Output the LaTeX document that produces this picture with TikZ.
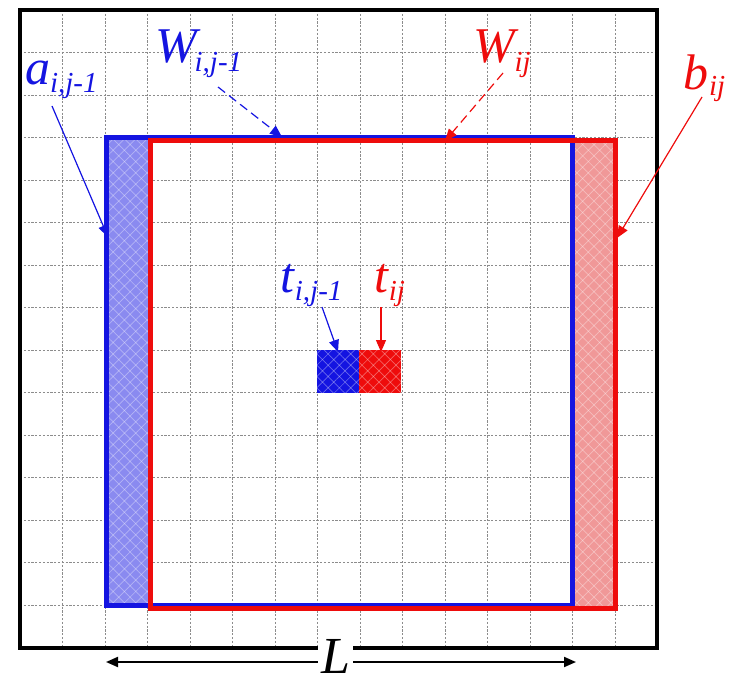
\documentclass[tikz,border=0pt]{standalone}
\usepackage{fontspec}
\setmainfont{Liberation Serif}
\usetikzlibrary{arrows.meta,patterns.meta}
\definecolor{myblue}{RGB}{20,20,225}
\definecolor{myred}{RGB}{238,12,12}
\definecolor{stripblue}{RGB}{138,138,240}
\definecolor{stripred}{RGB}{240,152,152}
\definecolor{gridgray}{RGB}{140,140,140}
\newcommand\mylbl[4]{{\fontsize{50}{50}\selectfont\itshape #1\kern#3\raisebox{-#4}{\fontsize{29}{29}\selectfont #2}}}
\tikzset{
  gridline/.style={gridgray, line width=0.9pt, dash pattern=on 2.2pt off 1.6pt},
  frameline/.style={black, line width=4.5pt},
  winline/.style={line width=5pt},
  hatch/.style={pattern={Lines[angle=45,distance=8pt,line width=0.7pt]}, pattern color=white, opacity=0.35},
  hatchb/.style={pattern={Lines[angle=-45,distance=8pt,line width=0.7pt]}, pattern color=white, opacity=0.35},
  lbl/.style={anchor=base west, inner sep=0pt, outer sep=0pt},
  solidarrow/.style={-{Triangle[length=12pt,width=10pt]}, line width=1.2pt},
  dasharrow/.style={solidarrow, dash pattern=on 9pt off 5pt},
}
\begin{document}
\begin{tikzpicture}[x=1pt,y=-1pt]
\useasboundingbox (0,0) rectangle (731,682);
% grid
\foreach \k in {1,...,14} {
  \draw[gridline] ({20+42.5*\k},10) -- ({20+42.5*\k},648);
  \draw[gridline] (20,{10+42.5*\k}) -- (657,{10+42.5*\k});
}
% strips
\fill[stripblue] (106,137.5) rectangle (148,605);
\fill[hatch] (106,137.5) rectangle (148,605);
\fill[hatchb] (106,137.5) rectangle (148,605);
\fill[stripred] (572.5,140.5) rectangle (615,608);
\fill[hatch] (572.5,140.5) rectangle (615,608);
\fill[hatchb] (572.5,140.5) rectangle (615,608);
% target cells
\fill[myblue] (317,350) rectangle (359,392.5);
\fill[myred] (359,350) rectangle (401,392.5);
\fill[hatch] (317,350) rectangle (401,392.5);
\fill[hatchb] (317,350) rectangle (401,392.5);
% windows
\draw[winline, myblue] (106,137.5) rectangle (572.5,605);
\draw[winline, myred] (150,140.5) rectangle (615,608);
% frame
\draw[frameline] (20,10) rectangle (657,648);
% coordinates
\coordinate (aS) at (52,106);  \coordinate (aT) at (108,237);
\coordinate (w1S) at (218,87); \coordinate (w1T) at (282,137);
\coordinate (w2S) at (503,73); \coordinate (w2T) at (445,141);
\coordinate (bS) at (702,97);  \coordinate (bT) at (617,238);
\coordinate (t1S) at (322,307); \coordinate (t1T) at (338,352);
\coordinate (t2S) at (381,307); \coordinate (t2T) at (381,352);
\coordinate (LA) at (106,662); \coordinate (LB) at (576,662);
% labels
\node[lbl, text=myblue] (la) at (25,85) {\mylbl{a}{i,j-1}{0pt}{8pt}};
\node[lbl, text=myblue] (lw1) at (155,63) {\mylbl{W}{i,j-1}{-2pt}{9pt}};
\node[lbl, text=myred] (lw2) at (473,63) {\mylbl{W}{ij}{0pt}{9pt}};
\node[lbl, text=myred] (lb) at (683,90) {\mylbl{b}{ij}{1pt}{6pt}};
\node[lbl, text=myblue] (lt1) at (280,292) {\mylbl{t}{i,j-1}{1pt}{8pt}};
\node[lbl, text=myred] (lt2) at (374,292) {\mylbl{t}{ij}{1pt}{8pt}};
% connectors
\draw[solidarrow, myblue] (aS) -- (aT);
\draw[dasharrow, myblue] (w1S) -- (w1T);
\draw[dasharrow, myred] (w2S) -- (w2T);
\draw[solidarrow, myred] (bS) -- (bT);
\draw[solidarrow, myblue] (t1S) -- (t1T);
\draw[solidarrow, myred] (t2S) -- (t2T);
\draw[{Triangle[length=12pt,width=10pt]}-{Triangle[length=12pt,width=10pt]}, line width=2pt] (LA) -- (LB);
\node[lbl, fill=white, inner xsep=3pt, inner ysep=0pt] (lL) at (318,673) {\fontsize{52}{52}\selectfont\itshape L};
\end{tikzpicture}
\end{document}
